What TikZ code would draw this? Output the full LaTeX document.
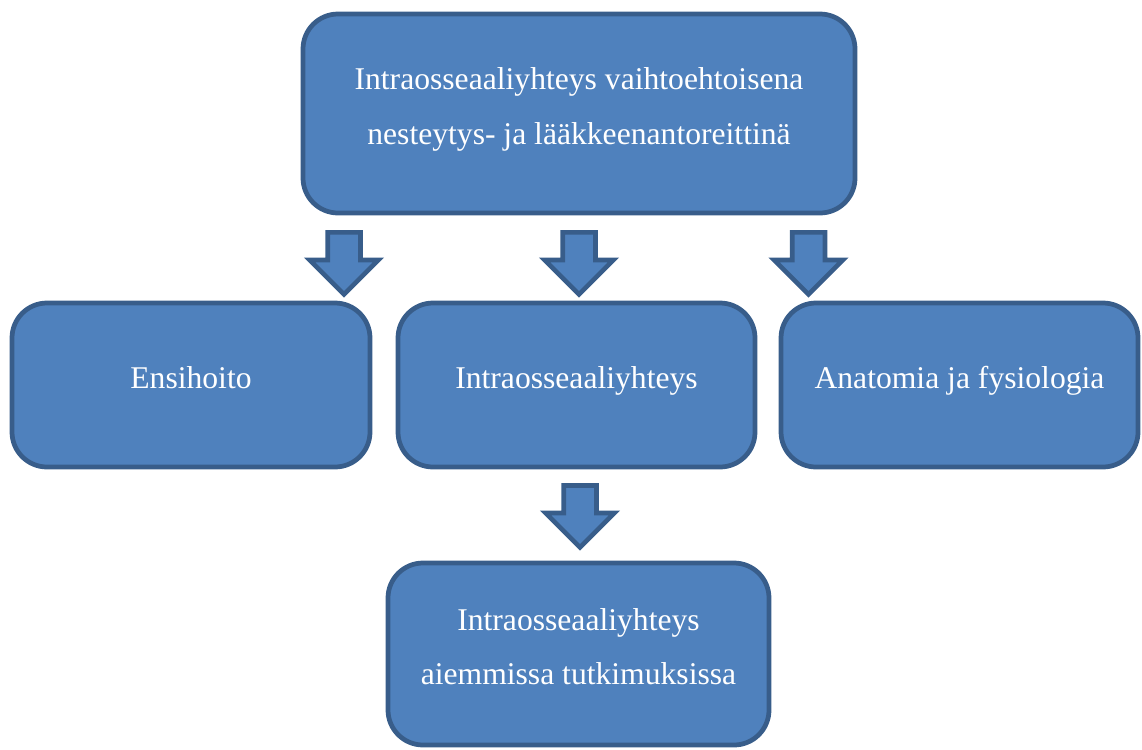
\documentclass[tikz,border=0pt]{standalone}
\usepackage{fontspec}
\setmainfont{Liberation Serif}
\usepackage{tikz}
\usetikzlibrary{shapes.arrows}
\definecolor{laatikkosini}{HTML}{4F81BD}
\definecolor{reunasini}{HTML}{385D8A}
\tikzset{
  laatikko/.style={draw=reunasini, fill=laatikkosini, line width=2.7pt, rounded corners=0.7cm,
    inner sep=0pt, text=white, align=center, text depth=0.3cm, font=\fontsize{18}{31}\selectfont},
  nuoli/.style={single arrow, draw=reunasini, fill=laatikkosini, line width=2.7pt, rotate=-90,
    anchor=tail, inner xsep=0pt, inner ysep=0.28cm, minimum height=1.24cm, single arrow head extend=0.36cm}
}
\newcommand{\laatikko}[6]{\node[laatikko, minimum width=#4cm, minimum height=#5cm] (#1) at ( #2 , #3 ) {#6};}
\newcommand{\nuoli}[3]{\node[nuoli] (#1) at ( #2 , #3 ) {};}

\begin{document}
\begin{tikzpicture}
\useasboundingbox (0,0) rectangle (22.84,-14.98);
% top box
\laatikko{paa}{11.58}{-2.27}{11.04}{3.98}{Intraosseaaliyhteys vaihtoehtoisena\\nesteytys- ja lääkkeenantoreittinä}
% arrows from top box
\nuoli{n1}{6.88}{-4.60}
\nuoli{n2}{11.58}{-4.60}
\nuoli{n3}{16.17}{-4.60}
% row of boxes
\laatikko{ensi}{3.82}{-7.70}{7.16}{3.28}{Ensihoito}
\laatikko{io}{11.53}{-7.70}{7.14}{3.28}{Intraosseaaliyhteys}
\laatikko{anat}{19.19}{-7.70}{7.14}{3.28}{Anatomia ja fysiologia}
% arrow to bottom box
\nuoli{n4}{11.60}{-9.66}
% bottom box
\laatikko{aiem}{11.57}{-13.08}{7.62}{3.64}{Intraosseaaliyhteys\\aiemmissa tutkimuksissa}
\end{tikzpicture}
\end{document}
